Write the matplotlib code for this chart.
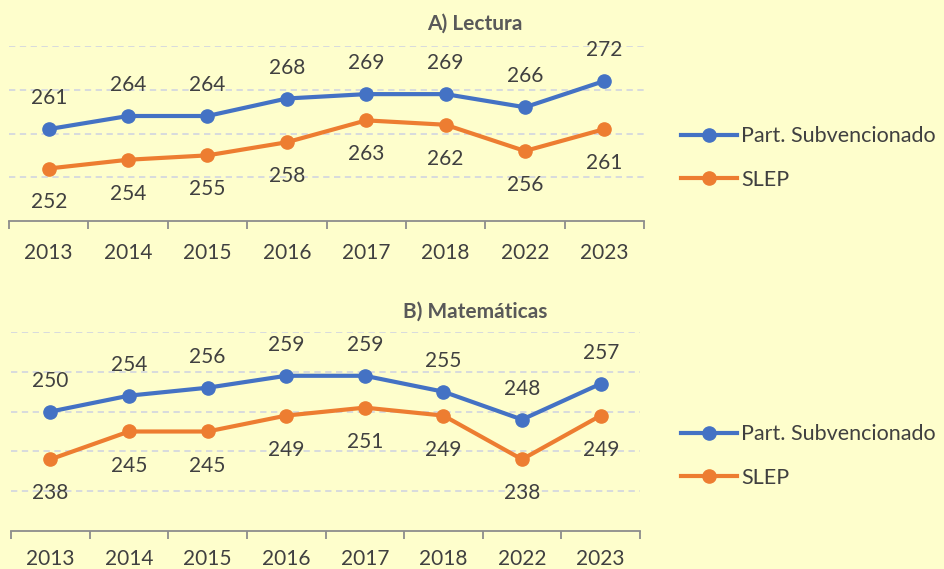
import matplotlib
matplotlib.use("Agg")
import matplotlib.pyplot as plt
import numpy as np

plt.rcParams['font.family'] = ['Lato', 'DejaVu Sans']

years = ["2013", "2014", "2015", "2016", "2017", "2018", "2022", "2023"]
series_names = ["Part. Subvencionado", "SLEP"]

# A) Lectura
lectura_subv = [261, 264, 264, 268, 269, 269, 266, 272]
lectura_slep = [252, 254, 255, 258, 263, 262, 256, 261]

# B) Matematicas
mate_subv = [250, 254, 256, 259, 259, 255, 248, 257]
mate_slep = [238, 245, 245, 249, 251, 249, 238, 249]

bg = "#FEFECC"
blue = "#4472C4"
orange = "#ED7D31"
txt = "#404040"
axis_col = "#8C8C8C"
grid_col = "#D5D8DE"

fig = plt.figure(figsize=(9.44, 5.69), dpi=100)
fig.patch.set_facecolor(bg)

W, H = 944, 569


def make_panel(left, right, top, bottom, ylim, yticks, subv, slep, title, title_y, leg_y, pad):
  ax = fig.add_axes([left/W, 1-bottom/H, (right-left)/W, (bottom-top)/H])
  ax.set_facecolor(bg)
  x = np.arange(len(years))
  ax.set_xlim(-0.5, len(years)-0.5)
  ax.set_ylim(*ylim)
  for yv in yticks:
    ax.axhline(yv, color=grid_col, lw=1.3, ls=(0, (3.5, 2.5)), zorder=1)
  l1, = ax.plot(x, subv, color=blue, lw=3, marker="o", ms=9.5, zorder=3, label=series_names[0])
  l2, = ax.plot(x, slep, color=orange, lw=3, marker="o", ms=9.5, zorder=3, label=series_names[1])
  for xi, v in zip(x, subv):
    ax.annotate(str(v), (xi, v), xytext=(0, 31), textcoords="offset pixels",
                ha="center", va="center", fontsize=15, color=txt)
  for xi, v in zip(x, slep):
    ax.annotate(str(v), (xi, v), xytext=(0, -34), textcoords="offset pixels",
                ha="center", va="center", fontsize=15, color=txt)
  for s in ["top", "right", "left"]:
    ax.spines[s].set_visible(False)
  ax.spines["bottom"].set_color(axis_col)
  ax.spines["bottom"].set_linewidth(1.3)
  ax.set_yticks([])
  ax.set_xticks(x)
  ax.set_xticklabels(years, fontsize=15, color=txt)
  ax.tick_params(axis="x", which="major", length=0, pad=pad)
  ax.set_xticks(np.arange(-0.5, len(years), 1.0), minor=True)
  ax.tick_params(axis="x", which="minor", length=6, width=1.3, color=axis_col, direction="out")
  fig.text(475/W, 1-title_y/H, title, ha="center", va="center", fontsize=15,
           fontweight="bold", color="#595959")
  fig.legend(handles=[l1, l2], loc="center left", bbox_to_anchor=(681/W, 1-leg_y/H),
             frameon=False, fontsize=15.5, handlelength=2.6, handletextpad=0.2,
             labelspacing=1.1, borderpad=0, borderaxespad=0, labelcolor=txt)
  return ax


make_panel(9, 644, 46, 221, (240, 280), [250, 260, 270, 280],
           lectura_subv, lectura_slep, "A) Lectura", 24, 158, 16)
make_panel(11, 640, 332, 531, (220, 270), [230, 240, 250, 260, 270],
           mate_subv, mate_slep, "B) Matemáticas", 312, 456, 13)

fig.savefig("out.png", dpi=100, facecolor=bg)
